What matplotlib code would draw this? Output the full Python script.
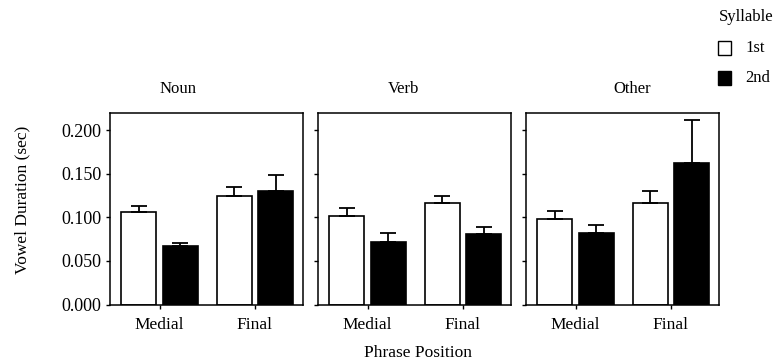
import matplotlib
matplotlib.use("Agg")
import matplotlib.pyplot as plt
from matplotlib.patches import Rectangle
import numpy as np

plt.rcParams['font.family'] = ['Liberation Serif', 'DejaVu Serif']

panels = ["Noun", "Verb", "Other"]
positions = ["Medial", "Final"]
syllables = ["1st", "2nd"]
legend_title = "Syllable"

# mean vowel durations (sec): [Medial, Final]
noun_1st = [0.106, 0.125]
noun_2nd = [0.067, 0.130]
verb_1st = [0.101, 0.116]
verb_2nd = [0.072, 0.081]
other_1st = [0.098, 0.116]
other_2nd = [0.082, 0.162]

# upper error (sec)
noun_1st_err = [0.007, 0.010]
noun_2nd_err = [0.004, 0.019]
verb_1st_err = [0.010, 0.009]
verb_2nd_err = [0.010, 0.008]
other_1st_err = [0.009, 0.014]
other_2nd_err = [0.009, 0.050]

yticks = [0.0, 0.05, 0.10, 0.15, 0.20]
ytick_labels = ["0.000", "0.050", "0.100", "0.150", "0.200"]

data = {
    "Noun": (noun_1st, noun_2nd, noun_1st_err, noun_2nd_err),
    "Verb": (verb_1st, verb_2nd, verb_1st_err, verb_2nd_err),
    "Other": (other_1st, other_2nd, other_1st_err, other_2nd_err),
}

W, H = 779, 364
fig = plt.figure(figsize=(W / 100, H / 100), dpi=100)

lefts = [110, 318, 526]
ax_w = 193
top_px, bot_px = 112.7, 304.5
title_x = [178, 404, 632]

width = 0.365
off = 0.217
x = np.arange(len(positions))

for i, name in enumerate(panels):
    ax = fig.add_axes([lefts[i] / W, 1 - bot_px / H, ax_w / W, (bot_px - top_px) / H])
    v1, v2, e1, e2 = data[name]
    ax.bar(x - off, v1, width, color="white", edgecolor="black", linewidth=1.2,
           yerr=[np.zeros(len(e1)), e1], capsize=6,
           error_kw=dict(elinewidth=1.3, capthick=1.3, ecolor="black"), zorder=2)
    ax.bar(x + off, v2, width, color="black", edgecolor="black", linewidth=1.2,
           yerr=[np.zeros(len(e2)), e2], capsize=6,
           error_kw=dict(elinewidth=1.3, capthick=1.3, ecolor="black"), zorder=2)
    ax.set_xlim(-0.52, 1.505)
    ax.set_ylim(0, 0.22)
    ax.set_xticks(x)
    ax.set_xticklabels(positions, fontsize=12.5)
    ax.set_yticks(yticks)
    if i == 0:
        ax.set_yticklabels(ytick_labels, fontsize=13)
    else:
        ax.set_yticklabels([])
    ax.tick_params(axis="both", direction="out", length=3, width=1, pad=3)
    ax.tick_params(axis="x", pad=6)
    for s in ax.spines.values():
        s.set_linewidth(1.1)
    fig.text(title_x[i] / W, 1 - 89 / H, name, ha="center", va="center", fontsize=12)

fig.text(22 / W, 1 - 200 / H, "Vowel Duration (sec)", rotation=90, ha="center",
         va="center", fontsize=12.5)
fig.text(418 / W, 1 - 353 / H, "Phrase Position", ha="center", va="center", fontsize=12.5)

# legend drawn manually in figure pixel coordinates
fig.text(719 / W, 1 - 17 / H, legend_title, ha="left", va="center", fontsize=12)
leg_y = [48, 78]
leg_colors = ["white", "black"]
for lab, yy, col in zip(syllables, leg_y, leg_colors):
    fig.patches.append(Rectangle((718 / W, 1 - (yy + 7) / H), 13 / W, 14 / H,
                                 facecolor=col, edgecolor="black", linewidth=1,
                                 transform=fig.transFigure, figure=fig))
    fig.text(745 / W, 1 - yy / H, lab, ha="left", va="center", fontsize=12)

fig.savefig("out.png", dpi=100)
